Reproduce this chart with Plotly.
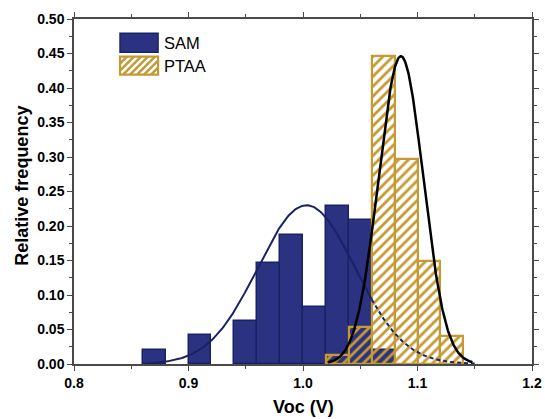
import numpy as np
import plotly.graph_objects as go

# Histogram bins (bin width 0.02 V), centres and relative frequencies
BIN_WIDTH = 0.02
sam_centers = [0.87, 0.91, 0.95, 0.97, 0.99, 1.01, 1.03, 1.05, 1.07]
sam_freq = [1/48, 2/48, 3/48, 7/48, 9/48, 4/48, 11/48, 10/48, 1/48]
ptaa_centers = [1.03, 1.05, 1.07, 1.09, 1.11, 1.13]
ptaa_freq = [1/74, 4/74, 33/74, 22/74, 11/74, 3/74]

# Normal-distribution fit parameters (peak height, mean, sigma, drawn range)
sam_fit = dict(peak=0.230, mean=1.003, sigma=0.0425, start=0.865, split=1.06, end=1.15)
ptaa_fit = dict(peak=0.446, mean=1.0855, sigma=0.0195, start=1.022, end=1.148)

NAVY = "#2B3282"
NAVY_EDGE = "#1A2266"
GOLD = "#C49A34"
AXIS = "#4a4a4a"
FONT = "Liberation Sans, Arial, sans-serif"


def gauss(x, p):
    return p["peak"] * np.exp(-((x - p["mean"]) ** 2) / (2 * p["sigma"] ** 2))


fig = go.Figure()

fig.add_trace(go.Bar(
    x=sam_centers, y=sam_freq, width=BIN_WIDTH, name="SAM",
    marker=dict(color=NAVY, line=dict(color=NAVY_EDGE, width=1.5)),
    showlegend=False,
))
fig.add_trace(go.Bar(
    x=ptaa_centers, y=ptaa_freq, width=BIN_WIDTH, name="PTAA",
    marker=dict(
        color="rgba(0,0,0,0)",
        line=dict(color=GOLD, width=2.2),
        pattern=dict(shape="/", fgcolor=GOLD, fgopacity=1, size=7,
                     solidity=0.4, fillmode="overlay"),
    ),
    showlegend=False,
))

# SAM fit: solid over its own bins, dashed across the PTAA region
xs1 = np.linspace(sam_fit["start"], sam_fit["split"], 200)
xs2 = np.linspace(sam_fit["split"], sam_fit["end"], 120)
fig.add_trace(go.Scatter(x=xs1, y=gauss(xs1, sam_fit), mode="lines",
                         line=dict(color=NAVY_EDGE, width=2), showlegend=False))
fig.add_trace(go.Scatter(x=xs2, y=gauss(xs2, sam_fit), mode="lines",
                         line=dict(color=NAVY_EDGE, width=2, dash="4px,3px"),
                         showlegend=False))

xp = np.linspace(ptaa_fit["start"], ptaa_fit["end"], 300)
fig.add_trace(go.Scatter(x=xp, y=gauss(xp, ptaa_fit), mode="lines",
                         line=dict(color="black", width=2.5), showlegend=False))

# Plot-area edges in pixels; legend and titles are laid out in these units
L, R, T, B = 74, 531.7, 19.3, 364.3


def px(xp_):
    return (xp_ - L) / (R - L)


def py(yp_):
    return (B - yp_) / (B - T)


sw_x0, sw_x1 = 120, 158
shapes = [
    dict(type="rect", xref="paper", yref="paper",
         x0=px(sw_x0), x1=px(sw_x1), y0=py(52.5), y1=py(33.5),
         fillcolor=NAVY, line=dict(color=NAVY_EDGE, width=1.5)),
]
# hatch lines for the PTAA swatch
hy0, hy1 = 57, 75
segs = []
for c in np.arange(sw_x0 - (hy1 - hy0), sw_x1 + 1, 7.0):
    xa, ya = c, hy1
    xb, yb = c + (hy1 - hy0), hy0
    if xa < sw_x0:
        ya -= (sw_x0 - xa)
        xa = sw_x0
    if xb > sw_x1:
        yb += (xb - sw_x1)
        xb = sw_x1
    if xb - xa > 0.5:
        segs.append(f"M{px(xa):.5f},{py(ya):.5f} L{px(xb):.5f},{py(yb):.5f}")
shapes.append(dict(type="path", xref="paper", yref="paper", path=" ".join(segs),
                   line=dict(color=GOLD, width=2.4)))
shapes.append(dict(type="rect", xref="paper", yref="paper",
                   x0=px(sw_x0), x1=px(sw_x1), y0=py(hy1), y1=py(hy0),
                   fillcolor="rgba(0,0,0,0)", line=dict(color=GOLD, width=2.2)))

legend_font = dict(family=FONT, size=16.5, color="black")
title_font = dict(family=FONT, size=18, color="black", weight="bold")
annotations = [
    dict(text="SAM", xref="paper", yref="paper", x=px(162), y=py(43),
         xanchor="left", yanchor="middle", showarrow=False, font=legend_font),
    dict(text="PTAA", xref="paper", yref="paper", x=px(162), y=py(66),
         xanchor="left", yanchor="middle", showarrow=False, font=legend_font),
    dict(text="Voc (V)", xref="paper", yref="paper", x=0.5, y=py(407),
         xanchor="center", yanchor="middle", showarrow=False, font=title_font),
    dict(text="Relative frequency", xref="paper", yref="paper", x=px(22),
         y=py(186), xanchor="center", yanchor="middle", textangle=-90,
         showarrow=False, font=title_font),
]

axis_common = dict(
    showline=True, linecolor=AXIS, linewidth=1.5, mirror="allticks",
    ticks="outside", ticklen=5, tickwidth=1.3, tickcolor=AXIS,
    showgrid=False, zeroline=False, automargin=False,
    tickfont=dict(family=FONT, size=14, color="black", weight="bold"),
)

fig.update_layout(
    width=545, height=419,
    margin=dict(l=L, r=545 - R, t=T, b=419 - B, autoexpand=False),
    paper_bgcolor="white", plot_bgcolor="white",
    barmode="overlay", bargap=0,
    shapes=shapes, annotations=annotations,
    xaxis=dict(range=[0.8, 1.2], dtick=0.1, tick0=0.8, tickformat=".1f",
               minor=dict(dtick=0.05, ticks="outside", ticklen=3, tickcolor=AXIS),
               **axis_common),
    yaxis=dict(range=[0, 0.5], dtick=0.05, tick0=0, tickformat=".2f",
               minor=dict(dtick=0.025, ticks="outside", ticklen=3, tickcolor=AXIS),
               **axis_common),
)

fig.write_html("out.html")
